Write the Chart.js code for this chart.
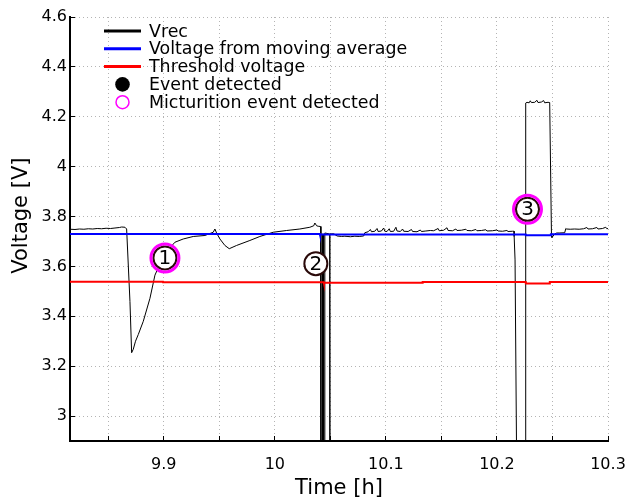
<!DOCTYPE html>
<html>
<head>
<meta charset="utf-8">
<script src="https://cdn.jsdelivr.net/npm/chart.js@4/dist/chart.umd.min.js"></script>
<style>
  body { margin: 0; background: #fff; }
  #wrap { width: 627px; height: 504px; }
</style>
</head>
<body>
<div id="wrap"><canvas id="voltChart" width="627" height="504"></canvas></div>
<script>
// Vrec measured signal (time in hours, voltage in V)
const vrecTime = [
  9.8155, 9.8200, 9.8240, 9.8280, 9.8320, 9.8360, 9.8400, 9.8440, 9.8480, 9.8520,
  9.8560, 9.8600, 9.8620, 9.8650, 9.8665, 9.8695, 9.8710, 9.8725, 9.8745, 9.8770,
  9.8815, 9.8875, 9.8920, 9.8960, 9.9000, 9.9050, 9.9100, 9.9175, 9.9265, 9.9370,
  9.9445, 9.9460, 9.9475, 9.9505, 9.9550, 9.9589, 9.9655, 9.9775, 9.9865, 9.9985,
  10.0106, 10.0225, 10.0315, 10.0350, 10.0360, 10.0376, 10.0390, 10.0412,
  10.0415, 10.0428, 10.0429, 10.0438, 10.0439, 10.0449, 10.0450,
  10.0494, 10.0495, 10.0496, 10.0530, 10.0560, 10.0600, 10.0630, 10.0680, 10.0720,
  10.0760, 10.0800, 10.0810, 10.0840, 10.0860, 10.0870, 10.0900, 10.0920, 10.0930,
  10.0960, 10.0980, 10.0990, 10.1010, 10.1030, 10.1040, 10.1070, 10.1090, 10.1100,
  10.1130, 10.1150, 10.1160, 10.1200, 10.1230, 10.1240, 10.1280, 10.1310, 10.1320,
  10.1360, 10.1400, 10.1430, 10.1470, 10.1480, 10.1520, 10.1550, 10.1560, 10.1600,
  10.1630, 10.1640, 10.1680, 10.1720, 10.1730, 10.1770, 10.1810, 10.1820, 10.1860,
  10.1900, 10.1910, 10.1960, 10.2000, 10.2010, 10.2050, 10.2090, 10.2100, 10.2140,
  10.2154, 10.2155, 10.2163, 10.2181, 10.2258, 10.2259, 10.2270, 10.2290, 10.2300,
  10.2310, 10.2340, 10.2360, 10.2370, 10.2400, 10.2420, 10.2430, 10.2460, 10.2475,
  10.2491, 10.2495, 10.2520, 10.2538, 10.2560, 10.2610, 10.2620, 10.2626, 10.2660,
  10.2700, 10.2740, 10.2780, 10.2810, 10.2820, 10.2860, 10.2900, 10.2910, 10.2950,
  10.2980, 10.2990, 10.3000
];
const vrec = [
  3.749, 3.748, 3.750, 3.749, 3.751, 3.750, 3.752, 3.751, 3.753, 3.752,
  3.754, 3.756, 3.758, 3.757, 3.750, 3.459, 3.254, 3.268, 3.300, 3.327,
  3.380, 3.472, 3.565, 3.605, 3.640, 3.672, 3.697, 3.710, 3.720, 3.724,
  3.737, 3.750, 3.734, 3.710, 3.684, 3.671, 3.684, 3.704, 3.720, 3.737,
  3.744, 3.750, 3.757, 3.763, 3.774, 3.763, 3.761, 3.760,
  2.600, 2.600, 3.730, 3.730, 2.600, 2.600, 3.734,
  3.730, 2.600, 3.730, 3.731, 3.722, 3.720, 3.721, 3.719, 3.721,
  3.720, 3.722, 3.735, 3.739, 3.748, 3.739, 3.741, 3.752, 3.740,
  3.742, 3.754, 3.741, 3.740, 3.751, 3.740, 3.741, 3.757, 3.742,
  3.740, 3.750, 3.741, 3.740, 3.748, 3.740, 3.739, 3.746, 3.740,
  3.742, 3.744, 3.743, 3.752, 3.743, 3.745, 3.755, 3.744, 3.743,
  3.750, 3.744, 3.745, 3.749, 3.744, 3.743, 3.748, 3.743, 3.744,
  3.747, 3.742, 3.743, 3.746, 3.742, 3.741, 3.744, 3.740, 3.741,
  3.741, 3.720, 3.626, 2.600, 2.600, 4.255, 4.258, 4.256, 4.264,
  4.257, 4.258, 4.266, 4.257, 4.259, 4.265, 4.256, 4.258, 4.257,
  3.724, 3.716, 3.730, 3.734, 3.734, 3.735, 3.752, 3.750, 3.749,
  3.750, 3.749, 3.751, 3.756, 3.750, 3.751, 3.756, 3.750, 3.752,
  3.757, 3.751, 3.752
];

// moving average voltage
const avgTime = [9.8155, 10.0405, 10.0406, 10.2259, 10.2260, 10.2485, 10.2486, 10.3];
const avgVolt = [3.730, 3.730, 3.728, 3.728, 3.725, 3.725, 3.729, 3.729];

// threshold voltage
const thrTime = [9.8155, 9.8992, 9.8993, 10.044, 10.0441, 10.133, 10.1331, 10.2259, 10.2260, 10.2475, 10.2476, 10.3];
const thrVolt = [3.539, 3.539, 3.536, 3.536, 3.534, 3.534, 3.537, 3.537, 3.531, 3.531, 3.537, 3.537];

// detected events (numbered markers)
const eventTime = [9.9010, 10.0369, 10.2275];
const eventVolt = [3.634, 3.611, 3.829];
const eventLabels = ['1', '2', '3'];

// events recognised as micturition
const mictTime = [9.9010, 10.2275];
const mictVolt = [3.634, 3.829];

// axis ticks
const xTicks = [9.85, 9.9, 9.95, 10, 10.05, 10.1, 10.15, 10.2, 10.25, 10.3];
const xTickLabels = ['', '9.9', '', '10', '', '10.1', '', '10.2', '', '10.3'];
const yTicks = [3, 3.2, 3.4, 3.6, 3.8, 4, 4.2, 4.4, 4.6];
const yTickLabels = ['3', '3.2', '3.4', '3.6', '3.8', '4', '4.2', '4.4', '4.6'];

const pts = (xs, ys) => xs.map((x, i) => ({ x: x, y: ys[i] }));

Chart.defaults.font.family = 'DejaVu Sans';
Chart.defaults.color = '#000';

// numbers inside the event circles
const eventNumbers = {
  id: 'eventNumbers',
  afterDatasetsDraw(chart) {
    const meta = chart.getDatasetMeta(3);
    const c = chart.ctx;
    c.save();
    c.font = '20px "DejaVu Sans"';
    c.fillStyle = '#000';
    c.textAlign = 'center';
    c.textBaseline = 'middle';
    meta.data.forEach((p, i) => c.fillText(eventLabels[i], p.x, p.y + 1));
    c.restore();
  }
};

// legend drawn inside the plot area, top left
const innerLegend = {
  id: 'innerLegend',
  afterDraw(chart) {
    const c = chart.ctx;
    const x0 = 104, x1 = 141, tx = 149;
    let y = 31;
    c.save();
    c.font = '17.4px "DejaVu Sans"';
    c.textBaseline = 'middle';
    chart.data.datasets.forEach((ds, i) => {
      const cx = (x0 + x1) / 2;
      if (ds.showLine === false) {
        c.beginPath();
        if (i === 3) {
          c.arc(cx, y, 7.3, 0, Math.PI * 2);
          c.fillStyle = '#000';
          c.fill();
        } else {
          c.arc(cx, y, 6.5, 0, Math.PI * 2);
          c.lineWidth = 1.5;
          c.strokeStyle = ds.borderColor;
          c.stroke();
        }
      } else {
        c.beginPath();
        c.moveTo(x0, y);
        c.lineTo(x1, y);
        c.lineWidth = 3;
        c.strokeStyle = ds.borderColor;
        c.stroke();
      }
      c.fillStyle = '#000';
      c.fillText(ds.label, tx, y + 1);
      y += 17.8;
    });
    c.restore();
  }
};

const ctx = document.getElementById('voltChart').getContext('2d');
const voltChart = new Chart(ctx, {
  type: 'line',
  data: {
    datasets: [
      { label: 'Vrec', data: pts(vrecTime, vrec), borderColor: '#000', borderWidth: 1,
        pointRadius: 0, tension: 0, order: 5 },
      { label: 'Voltage from moving average', data: pts(avgTime, avgVolt), borderColor: '#0000ff',
        borderWidth: 2, pointRadius: 0, order: 4 },
      { label: 'Threshold voltage', data: pts(thrTime, thrVolt), borderColor: '#ff0000',
        borderWidth: 2, pointRadius: 0, order: 3 },
      { label: 'Event detected', data: pts(eventTime, eventVolt), showLine: false,
        pointRadius: 11.5, pointBorderWidth: 2, pointBackgroundColor: '#fff',
        pointBorderColor: '#2a0a0a', borderColor: '#2a0a0a', order: 2 },
      { label: 'Micturition event detected', data: pts(mictTime, mictVolt), showLine: false,
        pointRadius: 14, pointBorderWidth: 3, pointBackgroundColor: 'rgba(0,0,0,0)',
        pointBorderColor: '#ff00ff', borderColor: '#ff00ff', order: 1 }
    ]
  },
  options: {
    responsive: false,
    animation: false,
    devicePixelRatio: 1,
    layout: { padding: { left: 0, right: 19, top: 12, bottom: 3 } },
    plugins: { legend: { display: false }, tooltip: { enabled: false } },
    scales: {
      x: {
        type: 'linear',
        min: 9.8155,
        max: 10.3,
        afterBuildTicks: (s) => { s.ticks = xTicks.map(v => ({ value: v })); },
        afterFit: (s) => { s.height = 60; s.paddingLeft = 0; s.paddingRight = 0; },
        ticks: { font: { size: 16 }, padding: 19, maxRotation: 0, autoSkip: false,
          callback: (v, i) => xTickLabels[i] },
        grid: { color: '#b4b4b4', tickLength: -5, tickColor: '#000', tickWidth: 1, tickBorderDash: [] },
        border: { color: '#000', width: 2, dash: [1, 3] },
        title: { display: true, text: 'Time [h]', font: { size: 21 }, padding: { top: 0, bottom: 0 } }
      },
      y: {
        min: 2.9,
        max: 4.6,
        afterBuildTicks: (s) => { s.ticks = yTicks.map(v => ({ value: v })); },
        afterFit: (s) => { s.width = 70; s.paddingTop = 0; s.paddingBottom = 0; },
        ticks: { font: { size: 16 }, padding: 8, autoSkip: false,
          callback: (v, i) => yTickLabels[i] },
        grid: { color: '#b4b4b4', tickLength: -5, tickColor: '#000', tickWidth: 1, tickBorderDash: [] },
        border: { color: '#000', width: 2, dash: [1, 3] },
        title: { display: true, text: '    Voltage [V]', font: { size: 21 }, padding: { top: 9, bottom: 0 } }
      }
    }
  },
  plugins: [eventNumbers, innerLegend]
});
</script>
</body>
</html>
